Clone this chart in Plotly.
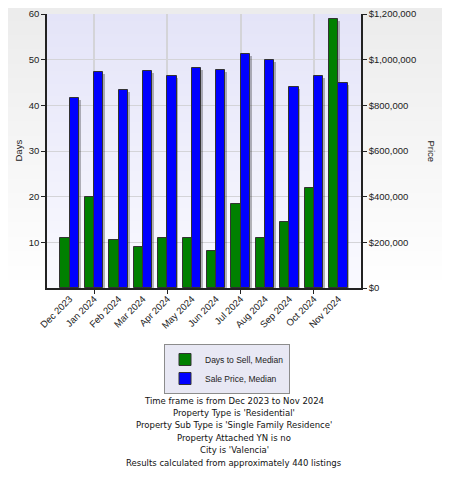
import base64, struct, zlib
import plotly.graph_objects as go

months = ["Dec 2023", "Jan 2024", "Feb 2024", "Mar 2024", "Apr 2024", "May 2024",
          "Jun 2024", "Jul 2024", "Aug 2024", "Sep 2024", "Oct 2024", "Nov 2024"]
days_to_sell = [11, 20, 10.5, 9, 11, 11, 8, 18.5, 11, 14.5, 22, 59]
sale_price = [833000, 945000, 866000, 949000, 927000, 962000, 955000, 1025000,
              1000000, 879000, 930000, 899000]
days_ticks = [10, 20, 30, 40, 50, 60]
price_ticks = [0, 200000, 400000, 600000, 800000, 1000000, 1200000]
grid_positions = [1, 4, 7, 10]
notes = ["Time frame is from Dec 2023 to Nov 2024",
         "Property Type is 'Residential'",
         "Property Sub Type is 'Single Family Residence'",
         "Property Attached YN is no",
         "City is 'Valencia'",
         "Results calculated from approximately 440 listings"]

# the page body has an 8px margin, so lay out in window pixels minus that offset
OFF = 8
W, H = 450 - 2 * OFF, 477 - 2 * OFF
PX0, PX1, PY0, PY1 = 47 - OFF, 361 - OFF, 14 - OFF, 288 - OFF   # plot box in figure pixels
L, R, T, B = PX0, W - PX1, PY0, H - PY1
PW, PH = PX1 - PX0, PY1 - PY0


def fx(px):
    return (px - OFF - PX0) / PW


def fy(py):
    return (PY1 - (py - OFF)) / PH


def gradient_png(top, bottom, n=128, stop=1.0):
    rows = b""
    for i in range(n):
        f = min(1.0, i / (n - 1) / stop)
        c = bytes(int(round(top[k] + (bottom[k] - top[k]) * f)) for k in range(3))
        rows += b"\x00" + c * 2
    def chunk(t, d):
        return struct.pack(">I", len(d)) + t + d + struct.pack(">I", zlib.crc32(t + d) & 0xffffffff)
    png = b"\x89PNG\r\n\x1a\n" + chunk(b"IHDR", struct.pack(">IIBBBBB", 2, n, 8, 2, 0, 0, 0))
    png += chunk(b"IDAT", zlib.compress(rows)) + chunk(b"IEND", b"")
    return "data:image/png;base64," + base64.b64encode(png).decode()


xs = list(range(len(months)))
bw = 0.38
sh = 0.07
fig = go.Figure()
# shadows
fig.add_trace(go.Bar(x=xs, y=days_to_sell, base=-60 * 2 / PH, width=bw, offset=-bw + sh,
                     marker=dict(color="rgba(0,0,0,0.28)", line=dict(width=0)),
                     showlegend=False, hoverinfo="skip", yaxis="y"))
fig.add_trace(go.Bar(x=xs, y=sale_price, base=-1.2e6 * 2 / PH, width=bw, offset=sh,
                     marker=dict(color="rgba(0,0,0,0.28)", line=dict(width=0)),
                     showlegend=False, hoverinfo="skip", yaxis="y2"))
fig.add_trace(go.Bar(x=xs, y=days_to_sell, width=bw, offset=-bw, name="Days to Sell, Median",
                     marker=dict(color="#008000", line=dict(color="#333333", width=1)),
                     yaxis="y"))
fig.add_trace(go.Bar(x=xs, y=sale_price, width=bw, offset=0, name="Sale Price, Median",
                     marker=dict(color="#0000ff", line=dict(color="#333333", width=1)),
                     yaxis="y2"))

tickfont = dict(family="Liberation Sans", size=9.5, color="#222")
annotations = [
    dict(text="Days", x=fx(10), y=0.5, xref="paper", yref="paper", showarrow=False,
         textangle=-90, font=dict(family="Liberation Sans", size=9.5, color="#222")),
    dict(text="Price", x=fx(439), y=0.5, xref="paper", yref="paper", showarrow=False,
         textangle=90, font=dict(family="Liberation Sans", size=9.5, color="#222")),
]
note_y = [400.5, 413, 425, 437.5, 450, 463]
for txt, py in zip(notes, note_y):
    annotations.append(dict(text=txt, x=fx(234), y=fy(py), xref="paper",
                            yref="paper", showarrow=False, xanchor="center", yanchor="middle",
                            font=dict(family="DejaVu Sans", size=8.5, color="#111")))

images = [
    dict(source=gradient_png((236, 236, 236), (255, 255, 255), stop=0.6), xref="paper", yref="paper",
         x=-L / PW, y=1 + T / PH, sizex=W / PW, sizey=H / PH, sizing="stretch",
         xanchor="left", yanchor="top", layer="below"),
    dict(source=gradient_png((228, 228, 248), (250, 250, 255)), xref="paper", yref="paper",
         x=0, y=1, sizex=1, sizey=1, sizing="stretch", xanchor="left", yanchor="top",
         layer="below"),
]

fig.update_layout(
    width=W, height=H, margin=dict(l=L, r=R, t=T, b=B, pad=0, autoexpand=False),
    paper_bgcolor="white", plot_bgcolor="rgba(0,0,0,0)",
    barmode="overlay", bargap=0,
    images=images, annotations=annotations,
    xaxis=dict(range=[-0.93, 11.93], tickmode="array", tickvals=xs, ticktext=months,
               tickangle=-45, ticks="", showgrid=False, showline=True, linecolor="#222",
               linewidth=1.5, tickfont=tickfont, zeroline=False, automargin=False,
               minor=dict(tickmode="array", tickvals=grid_positions, ticks="outside",
                          ticklen=4, tickcolor="#222", showgrid=True, gridcolor="#d4d4d8",
                          gridwidth=1.5)),
    yaxis=dict(range=[0, 60], tickmode="array", tickvals=days_ticks, ticks="outside",
               ticklen=4, tickcolor="#222", showline=True, linecolor="#222", linewidth=1.5,
               showgrid=True, gridcolor="#d4d4d8", gridwidth=1, zeroline=False,
               tickfont=tickfont, automargin=False),
    yaxis2=dict(range=[0, 1200000], overlaying="y", side="right", tickmode="array",
                tickvals=price_ticks, tickformat="$,.0f", ticks="outside", ticklen=4,
                tickcolor="#222", showline=True, linecolor="#222", linewidth=1.5,
                showgrid=False, zeroline=False, tickfont=tickfont, automargin=False),
    legend=dict(x=fx(164), y=fy(344), xanchor="left", yanchor="top",
                bgcolor="#e8e8f4", bordercolor="#8c8c8c", borderwidth=1,
                font=dict(family="Liberation Sans", size=8.5, color="#222"),
                traceorder="normal", itemwidth=30, tracegroupgap=0),
    showlegend=True,
)

fig.write_html("out.html")
